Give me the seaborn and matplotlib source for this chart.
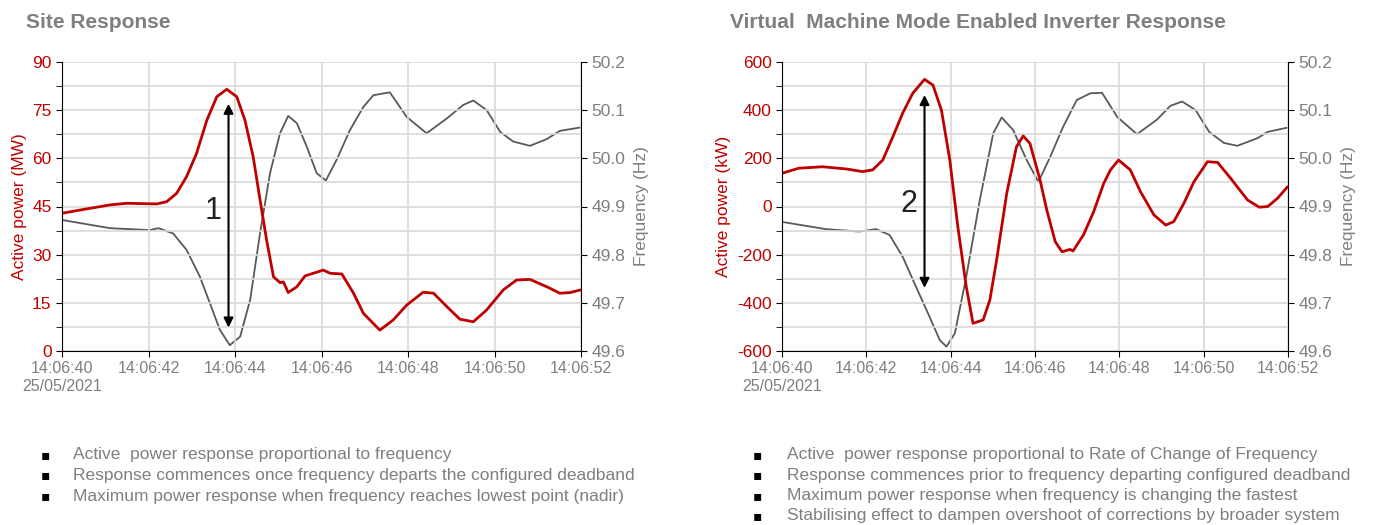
import numpy as np
import pandas as pd
import matplotlib
matplotlib.use("Agg")
import matplotlib.pyplot as plt
import seaborn as sns

# ---------------- data ----------------
tick_labels = ["14:06:40\n25/05/2021", "14:06:42", "14:06:44", "14:06:46",
               "14:06:48", "14:06:50", "14:06:52"]

# Site response: active power (MW), seconds after 14:06:40
site_t = [0, 0.42, 1.11, 1.5, 2.19, 2.42, 2.65, 2.88, 3.11, 3.35, 3.58, 3.81,
          4.04, 4.23, 4.42, 4.58, 4.73, 4.89, 5.04, 5.12, 5.23, 5.43, 5.62,
          5.81, 6.04, 6.2, 6.47, 6.74, 6.97, 7.35, 7.66, 7.97, 8.35, 8.59,
          8.9, 9.2, 9.51, 9.82, 10.2, 10.51, 10.82, 11.21, 11.51, 11.75, 11.98]
site_power = [42.9, 43.9, 45.5, 46.0, 45.8, 46.5, 49.1, 54.3, 61.5, 71.9, 79.2,
              81.5, 79.2, 71.9, 60.5, 47.0, 34.6, 23.1, 21.3, 21.5, 18.2, 20.0,
              23.4, 24.2, 25.2, 24.2, 24.0, 18.0, 11.7, 6.5, 9.7, 14.3, 18.3,
              18.0, 13.8, 9.9, 9.1, 12.8, 19.0, 22.1, 22.3, 20.0, 18.0, 18.2, 19.0]

# Site response: frequency (Hz)
site_ft = [0, 1.11, 2.03, 2.23, 2.57, 2.88, 3.19, 3.42, 3.65, 3.88, 4.12,
           4.35, 4.58, 4.81, 5.04, 5.23, 5.43, 5.66, 5.89, 6.1, 6.35, 6.66,
           6.97, 7.2, 7.58, 7.97, 8.43, 8.9, 9.28, 9.51, 9.82, 10.13, 10.43,
           10.82, 11.21, 11.51, 11.98]
site_freq = [49.872, 49.855, 49.851, 49.855, 49.844, 49.81, 49.754, 49.699,
             49.644, 49.612, 49.63, 49.706, 49.845, 49.969, 50.052, 50.088,
             50.073, 50.024, 49.969, 49.954, 49.997, 50.059, 50.107, 50.131,
             50.137, 50.086, 50.052, 50.083, 50.111, 50.12, 50.1, 50.055,
             50.035, 50.026, 50.04, 50.057, 50.064]

# Virtual machine mode inverter: active power (kW)
vm_t = [0, 0.4, 0.96, 1.52, 1.91, 2.15, 2.39, 2.63, 2.86, 3.1, 3.38, 3.58,
        3.78, 3.98, 4.17, 4.37, 4.53, 4.77, 4.93, 5.09, 5.33, 5.56, 5.72,
        5.88, 6.12, 6.28, 6.48, 6.64, 6.83, 6.9, 7.15, 7.39, 7.63, 7.79,
        7.98, 8.26, 8.5, 8.82, 9.1, 9.29, 9.53, 9.77, 10.09, 10.33, 10.64,
        11.04, 11.32, 11.52, 11.75, 11.99]
vm_power = [138, 159, 165, 156, 145, 152, 193, 290, 387, 470, 528, 504, 401,
            193, -84, -333, -485, -471, -388, -222, 55, 248, 293, 262, 110,
            -15, -146, -188, -178, -185, -118, -22, 96, 152, 193, 152, 62,
            -35, -77, -63, 13, 103, 186, 183, 117, 27, -3, 0, 34, 82]

# Virtual machine mode inverter: frequency (Hz)
vm_ft = [0, 1.04, 1.83, 2.23, 2.55, 2.86, 3.18, 3.5, 3.74, 3.9, 4.1, 4.37,
         4.69, 5.01, 5.21, 5.48, 5.8, 6.08, 6.36, 6.67, 6.99, 7.31, 7.59,
         7.95, 8.42, 8.9, 9.21, 9.49, 9.81, 10.13, 10.48, 10.8, 11.28,
         11.52, 12]
vm_freq = [49.868, 49.853, 49.848, 49.853, 49.841, 49.796, 49.733, 49.671,
           49.623, 49.609, 49.637, 49.754, 49.913, 50.052, 50.085, 50.059,
           49.997, 49.951, 50.003, 50.066, 50.121, 50.135, 50.136, 50.086,
           50.05, 50.081, 50.109, 50.118, 50.1, 50.055, 50.032, 50.026,
           50.042, 50.055, 50.064]

site_bullets = ["Active  power response proportional to frequency",
                "Response commences once frequency departs the configured deadband",
                "Maximum power response when frequency reaches lowest point (nadir)"]
vm_bullets = ["Active  power response proportional to Rate of Change of Frequency",
              "Response commences prior to frequency departing configured deadband",
              "Maximum power response when frequency is changing the fastest",
              "Stabilising effect to dampen overshoot of corrections by broader system"]

# ---------------- style ----------------
sns.set_style("white")
plt.rcParams['font.family'] = ['Liberation Sans Narrow', 'Liberation Sans', 'DejaVu Sans']
plt.rcParams['axes.unicode_minus'] = False

RED = "#c00000"
GREY = "#595959"
TXT = "#7f7f7f"

fig = plt.figure(figsize=(13.74, 5.25), dpi=100)
W, H = 1374, 525


def px_axes(x0, y0, x1, y1):
    return fig.add_axes([x0 / W, 1 - y1 / H, (x1 - x0) / W, (y1 - y0) / H])


def make_panel(box, t, p, ft, f, pylim, pstep, plabel, arrow, label_txt, label_pos):
    ax = px_axes(*box)
    ax2 = ax.twinx()
    ax.set_xlim(0, 12)
    ax.set_ylim(*pylim)
    ax2.set_ylim(49.6, 50.2)
    ax.set_xticks(np.arange(0, 12.01, 2))
    ax.set_yticks(np.arange(pylim[0], pylim[1] + 0.01, pstep))
    ax.set_yticks(np.arange(pylim[0], pylim[1] + 0.01, pstep / 2), minor=True)
    ax.grid(True, which="both", axis="y", color="#d9d9d9", lw=1.2)
    ax.grid(True, which="major", axis="x", color="#d9d9d9", lw=1.2)
    ax.set_axisbelow(True)
    df = pd.DataFrame({"t": t, "p": p})
    dff = pd.DataFrame({"t": ft, "f": f})
    sns.lineplot(data=dff, x="t", y="f", ax=ax2, color=GREY, lw=1.3,
                 solid_joinstyle="round")
    sns.lineplot(data=df, x="t", y="p", ax=ax, color=RED, lw=2.0,
                 solid_joinstyle="round")
    ax.set_zorder(ax2.get_zorder() + 1)
    ax.patch.set_visible(False)
    fvals = np.arange(49.6, 50.21, 0.1)
    ax2.set_yticks(fvals)
    ax2.set_yticklabels([f"{v:.1f}" for v in fvals])
    ax.set_xticklabels(tick_labels)
    for a in (ax, ax2):
        a.spines["top"].set_visible(False)
    ax.spines["right"].set_visible(False)
    ax2.spines["left"].set_visible(False)
    ax2.spines["bottom"].set_visible(False)
    ax.spines["left"].set_color("black")
    ax.spines["bottom"].set_color("black")
    ax2.spines["right"].set_color("black")
    ax.tick_params(axis="y", which="both", left=True, length=4, colors="black",
                   labelcolor=RED, labelsize=12.5)
    ax.tick_params(axis="x", bottom=True, length=4, colors="black",
                   labelcolor=TXT, labelsize=11.5)
    for lbl in ax.get_xticklabels():
        lbl.set_ha("center")
    ax2.tick_params(axis="y", right=True, length=4, colors="black",
                    labelcolor=TXT, labelsize=12.5)
    ax.set_xlabel("")
    ax2.set_xlabel("")
    ax.set_ylabel(plabel, color=RED, fontsize=12.5,
                  family=['Liberation Sans', 'DejaVu Sans'], labelpad=4)
    ax2.set_ylabel("Frequency (Hz)", color=TXT, fontsize=12.5,
                   family=['Liberation Sans', 'DejaVu Sans'], labelpad=6)
    ax.annotate("", xy=(arrow[0], arrow[2]), xytext=(arrow[0], arrow[1]),
                arrowprops=dict(arrowstyle="<|-|>", color="black", lw=1.5,
                                mutation_scale=14, shrinkA=0, shrinkB=0))
    ax.text(label_pos[0], label_pos[1], label_txt, fontsize=22, color="#222222",
            ha="center", va="center", family=['Liberation Sans', 'DejaVu Sans'])
    return ax


make_panel((62, 62, 581, 351), site_t, site_power, site_ft, site_freq,
           (0, 90), 15, "Active power (MW)", (3.85, 77, 7.3), "1", (3.5, 43.5))
make_panel((782, 62, 1288, 351), vm_t, vm_power, vm_ft, vm_freq,
           (-600, 600), 200, "Active power (kW)", (3.38, 463, -338), "2", (3.02, 12))

fig.text(26 / W, 1 - 22 / H, "Site Response", fontsize=15, fontweight="bold",
         color=TXT, va="center", ha="left", family=['Liberation Sans', 'DejaVu Sans'])
fig.text(730 / W, 1 - 22 / H, "Virtual  Machine Mode Enabled Inverter Response",
         fontsize=15, fontweight="bold", color=TXT, va="center", ha="left",
         family=['Liberation Sans', 'DejaVu Sans'])

for i, s in enumerate(site_bullets):
    y = 1 - (455 + i * 20.5) / H
    fig.text(41 / W, y, "\u25aa", fontsize=10, color="black", va="center", ha="left",
             family=['DejaVu Sans'])
    fig.text(73 / W, y, s, fontsize=12.5, color=TXT, va="center", ha="left")
for i, s in enumerate(vm_bullets):
    y = 1 - (455 + i * 20.3) / H
    fig.text(753 / W, y, "\u25aa", fontsize=10, color="black", va="center", ha="left",
             family=['DejaVu Sans'])
    fig.text(787 / W, y, s, fontsize=12.5, color=TXT, va="center", ha="left")

fig.savefig("out.png", dpi=100, facecolor="white")
